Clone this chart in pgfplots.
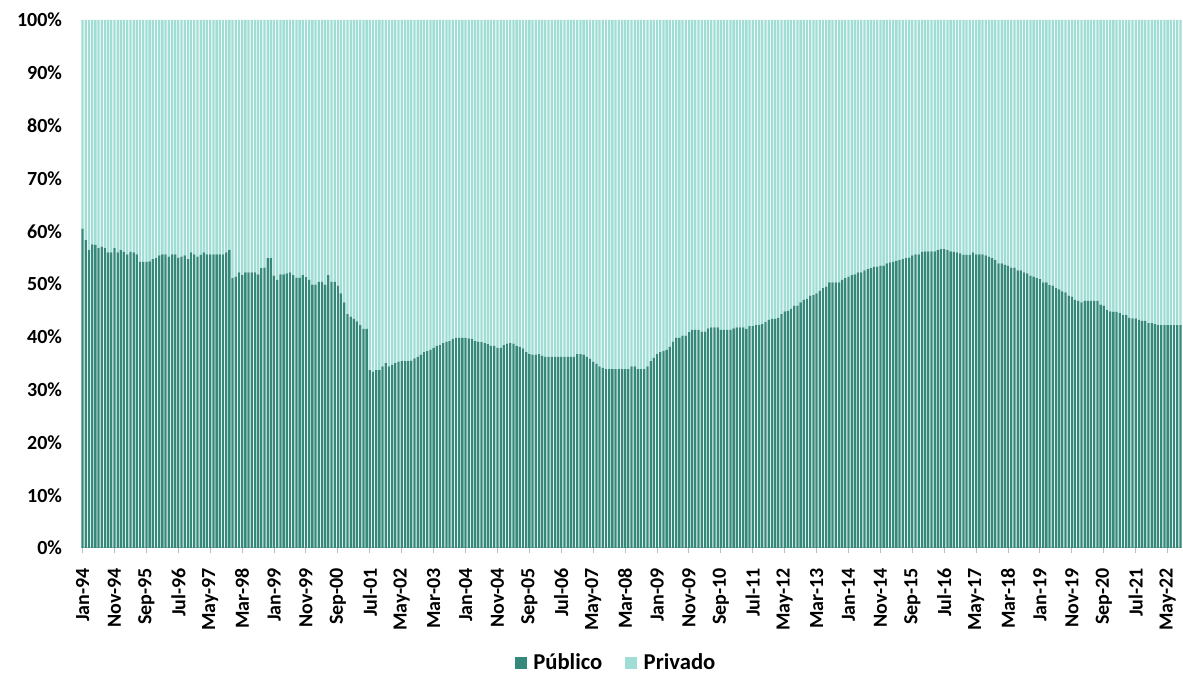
\documentclass[border=0pt]{standalone}
\usepackage{fontspec}
\setmainfont{Carlito}
\usepackage{pgfplots}
\usepackage{pgfplotstable}
\pgfplotsset{compat=1.18}

\definecolor{publico}{RGB}{52,137,122}
\definecolor{privado}{RGB}{160,221,213}
\definecolor{axisgray}{RGB}{191,191,191}

% share of "Publico" (%), monthly, Jan-94 .. Sep-22
\pgfplotstableread[row sep=\\]{
p\\
60.5\\ 58.3\\ 56.4\\ 57.5\\ 57.4\\ 56.8\\ 57.1\\ 56.8\\ 56.0\\ 56.0\\
56.8\\ 56.0\\ 56.4\\ 56.1\\ 55.6\\ 56.1\\ 56.0\\ 55.6\\ 54.2\\ 54.2\\
54.2\\ 54.3\\ 54.7\\ 54.9\\ 55.4\\ 55.6\\ 55.6\\ 55.2\\ 55.6\\ 55.6\\
55.0\\ 55.2\\ 55.4\\ 54.7\\ 56.0\\ 55.6\\ 55.2\\ 55.5\\ 56.0\\ 55.6\\
55.6\\ 55.6\\ 55.6\\ 55.6\\ 55.6\\ 56.0\\ 56.4\\ 51.1\\ 51.4\\ 52.2\\
51.7\\ 52.2\\ 52.2\\ 52.2\\ 52.2\\ 51.8\\ 53.0\\ 53.1\\ 54.9\\ 54.9\\
51.6\\ 50.8\\ 51.8\\ 51.8\\ 52.0\\ 52.2\\ 51.7\\ 51.2\\ 51.2\\ 51.7\\
51.3\\ 50.8\\ 49.9\\ 49.9\\ 50.4\\ 50.4\\ 49.9\\ 51.7\\ 50.4\\ 50.4\\
49.7\\ 48.2\\ 46.5\\ 44.3\\ 43.8\\ 43.4\\ 42.9\\ 42.2\\ 41.5\\ 41.5\\
33.7\\ 33.4\\ 33.7\\ 33.7\\ 34.4\\ 35.0\\ 34.4\\ 34.7\\ 35.0\\ 35.3\\
35.4\\ 35.4\\ 35.4\\ 35.5\\ 35.9\\ 36.2\\ 36.6\\ 37.1\\ 37.3\\ 37.5\\
37.9\\ 38.3\\ 38.4\\ 38.8\\ 39.1\\ 39.2\\ 39.6\\ 39.8\\ 39.8\\ 39.8\\
39.8\\ 39.7\\ 39.6\\ 39.2\\ 39.1\\ 39.0\\ 38.8\\ 38.6\\ 38.3\\ 38.3\\
37.9\\ 37.9\\ 38.4\\ 38.7\\ 38.8\\ 38.7\\ 38.3\\ 38.1\\ 37.8\\ 37.1\\
36.7\\ 36.6\\ 36.6\\ 36.7\\ 36.4\\ 36.2\\ 36.2\\ 36.2\\ 36.2\\ 36.2\\
36.2\\ 36.2\\ 36.2\\ 36.2\\ 36.2\\ 36.7\\ 36.7\\ 36.6\\ 36.2\\ 35.8\\
35.3\\ 34.9\\ 34.4\\ 34.1\\ 33.9\\ 33.9\\ 33.9\\ 33.9\\ 33.9\\ 33.9\\
33.9\\ 33.9\\ 34.4\\ 34.4\\ 33.9\\ 33.9\\ 33.9\\ 34.4\\ 35.4\\ 36.0\\
36.7\\ 37.1\\ 37.3\\ 37.5\\ 38.1\\ 39.1\\ 39.8\\ 39.8\\ 40.2\\ 40.2\\
40.9\\ 41.3\\ 41.3\\ 41.3\\ 41.0\\ 41.0\\ 41.6\\ 41.8\\ 41.8\\ 41.8\\
41.3\\ 41.3\\ 41.3\\ 41.3\\ 41.6\\ 41.8\\ 41.8\\ 41.8\\ 41.5\\ 42.0\\
42.0\\ 42.2\\ 42.2\\ 42.4\\ 42.8\\ 43.2\\ 43.4\\ 43.4\\ 43.6\\ 44.3\\
44.8\\ 44.9\\ 45.3\\ 45.9\\ 45.9\\ 46.5\\ 47.0\\ 47.2\\ 47.8\\ 47.9\\
48.2\\ 48.7\\ 49.2\\ 49.5\\ 50.3\\ 50.3\\ 50.3\\ 50.3\\ 50.8\\ 51.1\\
51.4\\ 51.7\\ 51.8\\ 52.2\\ 52.2\\ 52.6\\ 52.8\\ 53.0\\ 53.3\\ 53.3\\
53.5\\ 53.5\\ 53.9\\ 54.1\\ 54.2\\ 54.4\\ 54.5\\ 54.7\\ 54.9\\ 55.0\\
55.4\\ 55.6\\ 55.6\\ 56.1\\ 56.2\\ 56.2\\ 56.2\\ 56.2\\ 56.4\\ 56.6\\
56.6\\ 56.4\\ 56.2\\ 56.1\\ 56.0\\ 55.8\\ 55.5\\ 55.5\\ 55.5\\ 56.0\\
55.6\\ 55.6\\ 55.6\\ 55.4\\ 55.2\\ 54.9\\ 54.5\\ 53.9\\ 53.9\\ 53.6\\
53.5\\ 53.1\\ 53.1\\ 52.6\\ 52.6\\ 52.2\\ 52.0\\ 51.6\\ 51.4\\ 51.1\\
50.9\\ 50.3\\ 50.3\\ 49.8\\ 49.7\\ 49.2\\ 49.0\\ 48.6\\ 48.4\\ 47.8\\
47.6\\ 47.0\\ 46.8\\ 46.5\\ 46.8\\ 46.8\\ 46.8\\ 46.8\\ 46.8\\ 46.1\\
45.9\\ 45.1\\ 44.8\\ 44.7\\ 44.7\\ 44.5\\ 44.1\\ 44.1\\ 43.6\\ 43.5\\
43.5\\ 43.2\\ 43.0\\ 43.0\\ 42.6\\ 42.6\\ 42.4\\ 42.2\\ 42.2\\ 42.2\\
42.2\\ 42.2\\ 42.2\\ 42.2\\ 42.2\\
}\share
% Privado is the rest up to 100%
\pgfplotstablecreatecol[expr={100-\thisrow{p}}]{q}\share

\begin{document}
\begin{tikzpicture}
% 1 px of the reference = 0.75pt
\useasboundingbox (-60.75pt,-93.75pt) rectangle (826.5pt,411pt);
\begin{axis}[
    scale only axis,
    width=825.75pt, height=396pt,
    ybar stacked, bar width=0.72,
    xmin=-0.5, xmax=344.5,
    ymin=0, ymax=100,
    axis x line*=bottom, axis y line*=left,
    y axis line style={draw=none},
    x axis line style={axisgray, line width=0.75pt},
    xtick={0,10,...,340},
    xticklabels={Jan-94,Nov-94,Sep-95,Jul-96,May-97,Mar-98,Jan-99,Nov-99,Sep-00,
      Jul-01,May-02,Mar-03,Jan-04,Nov-04,Sep-05,Jul-06,May-07,Mar-08,Jan-09,
      Nov-09,Sep-10,Jul-11,May-12,Mar-13,Jan-14,Nov-14,Sep-15,Jul-16,May-17,
      Mar-18,Jan-19,Nov-19,Sep-20,Jul-21,May-22},
    x tick style={axisgray, line width=0.75pt},
    xtick align=outside, major tick length=4pt,
    ytick={0,10,...,100},
    y tick style={draw=none},
    yticklabel={\pgfmathprintnumber{\tick}\%},
    /pgf/number format/assume math mode=true,
    tick label style={font=\fontsize{15}{17}\selectfont\bfseries},
    xticklabel style={rotate=90, anchor=east, inner sep=0pt, xshift=-11pt},
    yticklabel style={anchor=east, inner sep=0pt, xshift=-14pt},
    legend style={at={(0.485,-0.217)}, anchor=center, draw=none,
      font=\fontsize{17}{19}\selectfont\bfseries,
      column sep=0pt, nodes={inner sep=0pt},
      /tikz/every odd column/.append style={column sep=5pt},
      /tikz/every even column/.append style={column sep=17pt}},
    legend columns=2,
    legend image code/.code={\fill[#1] (0pt,-4.5pt) rectangle (9pt,4.5pt);},
]
\addplot[fill=publico, draw=none] table[x expr=\coordindex, y=p] {\share};
\addplot[fill=privado, draw=none] table[x expr=\coordindex, y=q] {\share};
\legend{Público, Privado}
\end{axis}
\end{tikzpicture}
\end{document}
